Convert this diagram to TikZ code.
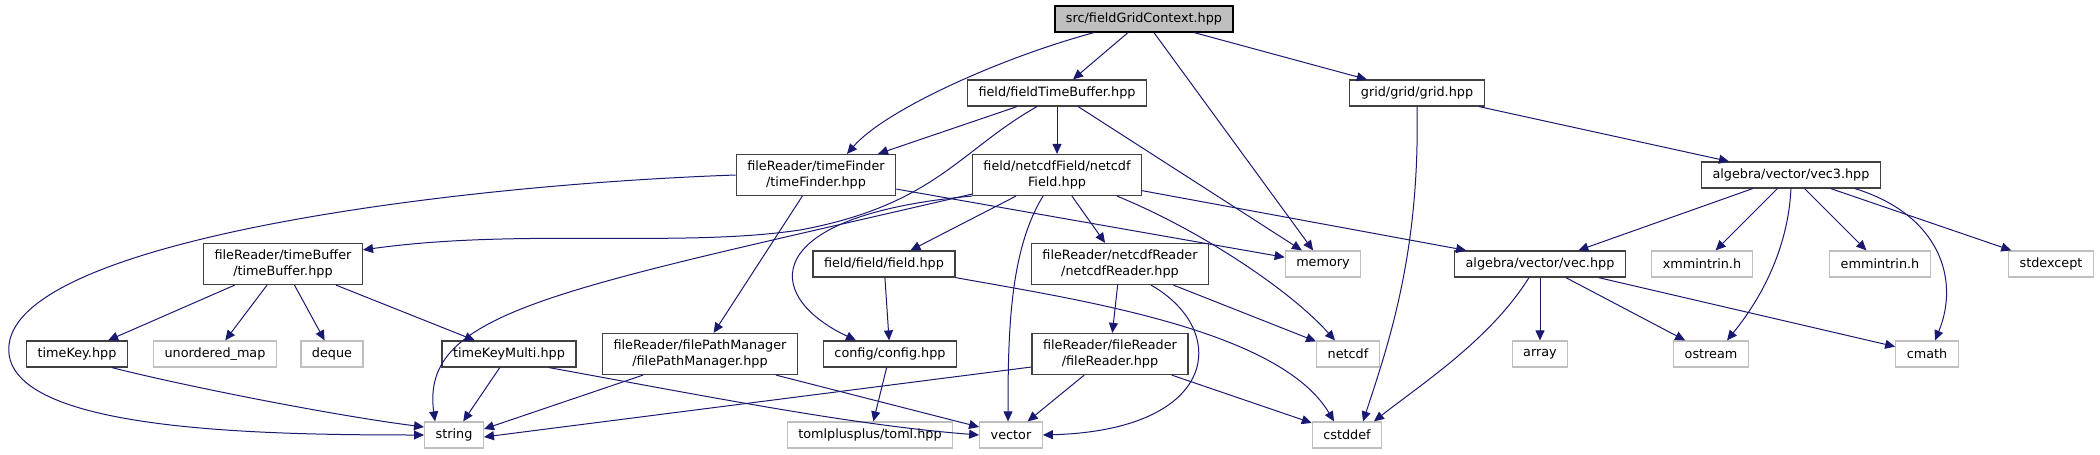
\documentclass[tikz,border=0pt]{standalone}
\usepackage{fontspec}
\setmainfont{DejaVu Sans}
\usetikzlibrary{arrows.meta}
\definecolor{azulDox}{HTML}{191970}
\definecolor{grisBorde}{HTML}{404040}
\definecolor{grisSistema}{HTML}{BFBFBF}
\definecolor{grisRaiz}{HTML}{BFBFBF}

\begin{document}
\begin{tikzpicture}[x=0.5pt, y=-0.5pt,
    archivo/.style={rectangle, draw=grisBorde, line width=0.6pt, fill=white,
                    minimum height=13pt, inner xsep=5.5pt, inner ysep=1pt, align=center,
                    font=\fontsize{6.4}{7.85}\selectfont},
    doble/.style={archivo, minimum height=20.5pt},
    sistema/.style={archivo, draw=grisSistema},
    raiz/.style={archivo, draw=black, fill=grisRaiz},
    flecha/.style={draw=azulDox, line width=0.5pt, -{Triangle[length=5pt, width=4.5pt]}}
  ]
  \useasboundingbox (0,0) rectangle (2100,455);

  \node[raiz] (raiz) at (1144,19) {src/fieldGridContext.hpp};
  \node[archivo] (ftb) at (1057,93) {field/fieldTimeBuffer.hpp};
  \node[archivo] (grid) at (1417,93) {grid/grid/grid.hpp};
  \node[doble] (tfind) at (816,175) {fileReader/timeFinder\\/timeFinder.hpp};
  \node[doble] (ncf) at (1057,175) {field/netcdfField/netcdf\\Field.hpp};
  \node[archivo] (vec3) at (1791,175) {algebra/vector/vec3.hpp};
  \node[doble] (tbuf) at (283,264) {fileReader/timeBuffer\\/timeBuffer.hpp};
  \node[archivo] (ffield) at (884,264) {field/field/field.hpp};
  \node[doble] (ncr) at (1120,264) {fileReader/netcdfReader\\/netcdfReader.hpp};
  \node[sistema] (mem) at (1323,264) {memory};
  \node[archivo] (vec) at (1540,264) {algebra/vector/vec.hpp};
  \node[sistema] (xmm) at (1702,264) {xmmintrin.h};
  \node[sistema] (emm) at (1880,264) {emmintrin.h};
  \node[sistema] (stdx) at (2051,264) {stdexcept};
  \node[archivo] (tkey) at (77,354) {timeKey.hpp};
  \node[sistema] (umap) at (215,354) {unordered\_map};
  \node[sistema] (deq) at (332,354) {deque};
  \node[archivo] (tkm) at (509,354) {timeKeyMulti.hpp};
  \node[doble] (fpm) at (700,354) {fileReader/filePathManager\\/filePathManager.hpp};
  \node[archivo] (conf) at (890,354) {config/config.hpp};
  \node[doble] (frd) at (1110,354) {fileReader/fileReader\\/fileReader.hpp};
  \node[sistema] (ncdf) at (1348,354) {netcdf};
  \node[sistema] (arr) at (1540,354) {array};
  \node[sistema] (ostr) at (1711,354) {ostream};
  \node[sistema] (cmath) at (1927,354) {cmath};
  \node[sistema] (str) at (454,435) {string};
  \node[sistema] (toml) at (870,435) {tomlplusplus/toml.hpp};
  \node[sistema] (vect) at (1011,435) {vector};
  \node[sistema] (cstd) at (1347,435) {cstddef};

  % desde la raiz
  \draw[flecha] ([xshift=-25pt]raiz.south) .. controls (1000,58) and (885,110) .. ([xshift=15.5pt]tfind.north);
  \draw[flecha] (raiz) -- (ftb);
  \draw[flecha] (raiz) -- (mem);
  \draw[flecha] (raiz) -- (grid);

  % fieldTimeBuffer
  \draw[flecha] (ftb) -- (tfind);
  \draw[flecha] ([xshift=-10pt]ftb.south) .. controls (960,150) and (935,205) .. (800,230)
                .. controls (680,248) and (520,228) .. (tbuf.10);
  \draw[flecha] (ftb) -- (ncf);
  \draw[flecha] (ftb) -- (mem);

  % timeFinder
  \draw[flecha] (tfind.west) .. controls (450,185) and (20,240) .. (9,345)
                .. controls (0,430) and (250,435) .. (str.west);
  \draw[flecha] (tfind) -- (fpm);
  \draw[flecha] (tfind) -- (mem);

  % netcdfField
  \draw[flecha] ([yshift=1pt]ncf.south west) .. controls (560,290) and (420,310) .. ([xshift=-9.5pt]str.north);
  \draw[flecha] (ncf.south west) .. controls (760,215) and (760,295) .. ([xshift=-17pt]conf.north);
  \draw[flecha] (ncf) -- (ffield);
  \draw[flecha] ([xshift=-7pt]ncf.south) .. controls (1010,250) and (1008,330) .. ([xshift=-1.5pt]vect.north);
  \draw[flecha] (ncf) -- (ncr);
  \draw[flecha] ([xshift=30pt]ncf.south) .. controls (1200,230) and (1290,290) .. ([xshift=-6.5pt]ncdf.north);
  \draw[flecha] (ncf) -- (vec);

  % grid
  \draw[flecha] (grid.south) .. controls (1420,250) and (1390,340) .. ([xshift=8pt]cstd.north);
  \draw[flecha] (grid) -- (vec3);

  % vec3
  \foreach \destino in {vec,xmm,emm,stdx} {
    \draw[flecha] (vec3) -- (\destino);
  }
  \draw[flecha] (vec3.south) .. controls (1788,250) and (1760,300) .. ([xshift=8pt]ostr.north);
  \draw[flecha] ([xshift=32pt]vec3.south) .. controls (1940,215) and (1960,280) .. ([xshift=4pt]cmath.north);

  % vec
  \foreach \destino in {arr,ostr,cmath} {
    \draw[flecha] (vec) -- (\destino);
  }
  \draw[flecha] ([xshift=-5.5pt]vec.south) .. controls (1490,340) and (1420,385) .. ([xshift=13.5pt]cstd.north);

  % field y config
  \draw[flecha] (ffield) -- (conf);
  \draw[flecha] (ffield.south east) .. controls (1080,300) and (1280,330) .. ([xshift=-6.5pt]cstd.north);
  \draw[flecha] (conf) -- (toml);

  % netcdfReader
  \draw[flecha] (ncr) -- (frd);
  \draw[flecha] (ncr) -- (ncdf);
  \draw[flecha] ([xshift=15.5pt]ncr.south) .. controls (1230,330) and (1220,430) .. (vect.east);

  % fileReader
  \draw[flecha] ([yshift=-6.5pt]frd.west) -- ([yshift=-1pt]str.east);
  \draw[flecha] (frd) -- (vect);
  \draw[flecha] (frd) -- (cstd);

  % filePathManager
  \draw[flecha] ([xshift=-28.5pt]fpm.south) -- ([yshift=3pt]str.east);
  \draw[flecha] ([xshift=38pt]fpm.south) -- ([yshift=4pt]vect.west);

  % timeKey y timeKeyMulti
  \draw[flecha] (tkm) -- (str);
  \draw[flecha] ([xshift=20pt]tkm.south) .. controls (700,395) and (850,425) .. (vect.west);
  \draw[flecha] ([xshift=17.5pt]tkey.south) .. controls (180,385) and (330,415) .. ([yshift=4pt]str.west);

  % timeBuffer
  \foreach \destino in {tkey,umap,deq,tkm} {
    \draw[flecha] (tbuf) -- (\destino);
  }
\end{tikzpicture}
\end{document}
